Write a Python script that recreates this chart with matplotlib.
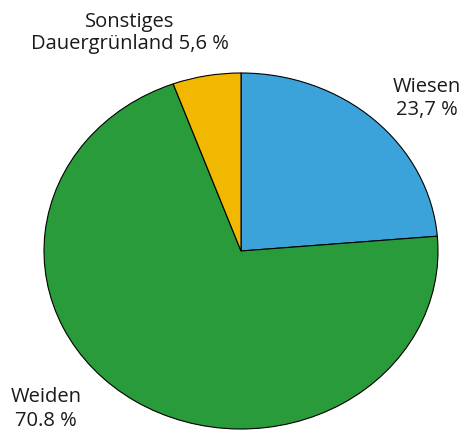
import matplotlib.pyplot as plt

labels = ['Wiesen\n23,7 %', 'Weiden\n70.8 %', 'Sonstiges\nDauergrünland 5,6 %']
values = [23.7, 70.8, 5.6]
colors = ['#3BA3D9', '#2A9B3B', '#F2B701']
# label centres in pixel coords (x, y from top)
label_pos = [(427, 99), (46, 409), (130, 33)]

W, H = 465, 432
fig = plt.figure(figsize=(W / 100, H / 100), dpi=100)
# pie is a slight ellipse: left 44, right 438, top 73, bottom 429
ax = fig.add_axes([44 / W, (H - 429) / H, (438 - 44) / W, (429 - 73) / H])
ax.pie(values, colors=colors, startangle=90, counterclock=False,
       wedgeprops={'edgecolor': 'black', 'linewidth': 0.8})
ax.set_aspect('auto')
ax.set_xlim(-1, 1)
ax.set_ylim(-1, 1)
ax.axis('off')

for lab, (px, py) in zip(labels, label_pos):
    fig.text(px / W, 1 - py / H, lab, ha='center', va='center',
             fontsize=14.5, family='Open Sans', color='#1a1a1a', linespacing=1.2)

fig.savefig('out.png', dpi=100, facecolor='w')
